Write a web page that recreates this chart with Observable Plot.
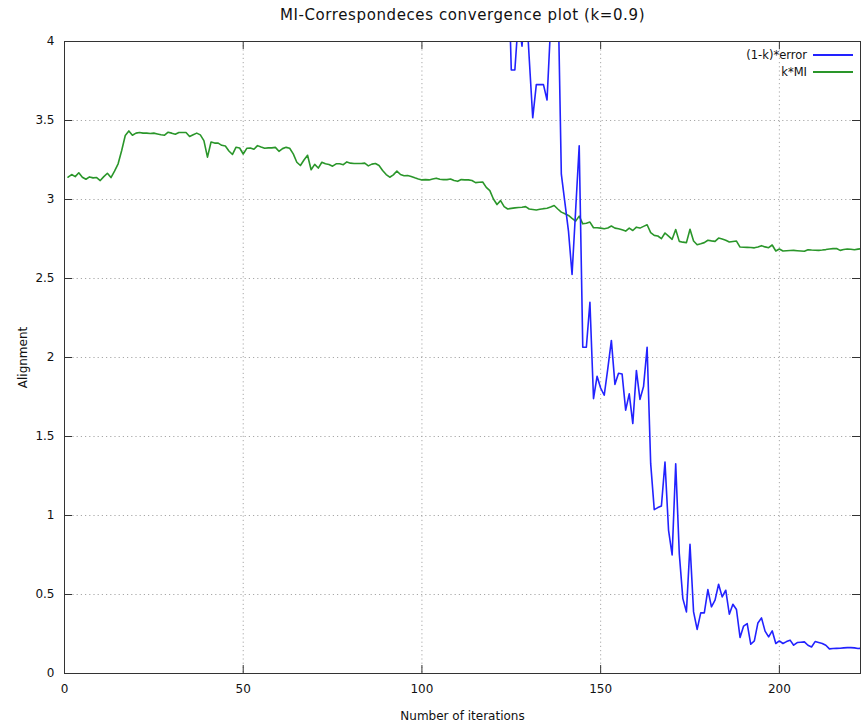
<!DOCTYPE html>
<html>
<head>
<meta charset="utf-8">
<script src="https://cdn.jsdelivr.net/npm/d3@7"></script>
<script src="https://cdn.jsdelivr.net/npm/@observablehq/plot@0.6"></script>
<style>
  html, body { margin: 0; padding: 0; background: #fff; }
  #wrap { position: relative; width: 861px; height: 724px; font-family: "DejaVu Sans", sans-serif; }
  #title { position: absolute; left: 64px; width: 797px; top: 6px; text-align: center; font-size: 15px; letter-spacing: 0.6px; color: #111; }
  #legend { position: absolute; right: 8px; top: 46.5px; font-size: 11.5px; color: #111; }
  .lrow { display: flex; align-items: center; justify-content: flex-end; height: 17px; }
  .lsw { display: inline-block; width: 40px; height: 2px; margin-left: 6px; }
</style>
</head>
<body>
<div id="wrap">
  <div id="chart"></div>
  <div id="title"></div>
  <div id="legend"></div>
</div>
<script>
// ---- data ----
const titleText = "MI-Correspondeces convergence plot (k=0.9)";
const xLabel = "Number of iterations";
const yLabel = "Alignment";
const seriesNames = ["(1-k)*error", "k*MI"];
const seriesColors = ["#2222ff", "#2a962a"];

const xTicks = [0, 50, 100, 150, 200];
const yTicks = [0, 0.5, 1, 1.5, 2, 2.5, 3, 3.5, 4];
const yTickLabels = ["0", "0.5", "1", "1.5", "2", "2.5", "3", "3.5", "4"];

// k*MI, iterations 1..223
const miStart = 1;
const miValues = [
  3.141, 3.158, 3.145, 3.169, 3.141, 3.128, 3.143, 3.137, 3.139, 3.120,
  3.145, 3.166, 3.139, 3.179, 3.226, 3.310, 3.405, 3.434, 3.407, 3.420,
  3.424, 3.420, 3.420, 3.418, 3.420, 3.415, 3.410, 3.407, 3.426, 3.420,
  3.413, 3.424, 3.424, 3.424, 3.399, 3.410, 3.420, 3.409, 3.373, 3.268,
  3.364, 3.357, 3.357, 3.343, 3.339, 3.307, 3.285, 3.331, 3.326, 3.288,
  3.324, 3.326, 3.318, 3.341, 3.332, 3.324, 3.327, 3.327, 3.330, 3.305,
  3.322, 3.330, 3.324, 3.289, 3.236, 3.215, 3.250, 3.280, 3.188, 3.222,
  3.199, 3.236, 3.226, 3.222, 3.211, 3.226, 3.226, 3.220, 3.238, 3.230,
  3.228, 3.228, 3.228, 3.230, 3.213, 3.224, 3.228, 3.215, 3.184, 3.158,
  3.141, 3.156, 3.180, 3.158, 3.150, 3.152, 3.145, 3.137, 3.130, 3.124,
  3.126, 3.124, 3.130, 3.135, 3.128, 3.126, 3.126, 3.130, 3.120, 3.115,
  3.126, 3.124, 3.124, 3.120, 3.107, 3.109, 3.111, 3.077, 3.056, 3.003,
  2.968, 2.993, 2.955, 2.940, 2.944, 2.947, 2.949, 2.951, 2.955, 2.940,
  2.937, 2.934, 2.938, 2.942, 2.945, 2.952, 2.962, 2.940, 2.920, 2.910,
  2.899, 2.880, 2.863, 2.895, 2.846, 2.850, 2.857, 2.821, 2.821, 2.819,
  2.815, 2.820, 2.832, 2.819, 2.815, 2.808, 2.800, 2.819, 2.804, 2.825,
  2.819, 2.830, 2.840, 2.790, 2.773, 2.769, 2.752, 2.788, 2.768, 2.748,
  2.810, 2.735, 2.730, 2.727, 2.812, 2.737, 2.714, 2.720, 2.727, 2.742,
  2.738, 2.735, 2.756, 2.750, 2.742, 2.731, 2.734, 2.737, 2.699, 2.698,
  2.697, 2.696, 2.694, 2.700, 2.708, 2.700, 2.695, 2.712, 2.674, 2.687,
  2.674, 2.676, 2.677, 2.678, 2.676, 2.674, 2.672, 2.682, 2.680, 2.679,
  2.678, 2.680, 2.683, 2.687, 2.689, 2.690, 2.678, 2.683, 2.687, 2.685,
  2.682, 2.686, 2.689
];

// (1-k)*error, iterations 122..223 (earlier values lie above the plotted range)
const errStart = 122;
const errValues = [
  6.5, 5.5, 4.6, 3.82, 3.82, 4.15, 3.97, 4.3, 3.9, 3.517,
  3.727, 3.727, 3.727, 3.63, 4.1, 4.8, 4.4, 3.16, 2.98, 2.80,
  2.526, 2.93, 3.34, 2.065, 2.065, 2.35, 1.74, 1.881, 1.807, 1.761,
  1.93, 2.108, 1.83, 1.90, 1.896, 1.667, 1.77, 1.582, 1.918, 1.735,
  1.816, 2.065, 1.328, 1.037, 1.05, 1.06, 1.338, 0.906, 0.75, 1.328,
  0.759, 0.474, 0.39, 0.818, 0.39, 0.279, 0.384, 0.384, 0.531, 0.422,
  0.464, 0.565, 0.485, 0.527, 0.375, 0.438, 0.405, 0.228, 0.30, 0.316,
  0.185, 0.206, 0.32, 0.352, 0.268, 0.232, 0.27, 0.19, 0.206, 0.19,
  0.202, 0.211, 0.179, 0.196, 0.198, 0.20, 0.179, 0.168, 0.202, 0.196,
  0.19, 0.179, 0.156, 0.158, 0.159, 0.16, 0.162, 0.164, 0.164, 0.162,
  0.158, 0.16
];

// ---- build tables ----
const miData = miValues.map((v, i) => ({iter: miStart + i, value: v}));
const errData = errValues.map((v, i) => ({iter: errStart + i, value: v}));

const W = 861, H = 724, mL = 64, mR = 1, mT = 41, mB = 51;
const plotH = H - mT - mB;
const tickLen = 8;
const gridStyle = {stroke: "#a8a8a8", strokeOpacity: 1, strokeWidth: 1, strokeDasharray: "1.2,3"};

const chart = Plot.plot({
  width: W,
  height: H,
  marginLeft: mL,
  marginRight: mR,
  marginTop: mT,
  marginBottom: mB,
  style: {fontFamily: "DejaVu Sans, sans-serif", fontSize: "12px", color: "#111", background: "#fff"},
  x: {domain: [0, 222.7]},
  y: {domain: [0, 4]},
  marks: [
    Plot.gridX(xTicks, gridStyle),
    Plot.gridY(yTicks, gridStyle),
    Plot.line(miData, {x: "iter", y: "value", stroke: seriesColors[1], strokeWidth: 1.6, clip: true}),
    Plot.line(errData, {x: "iter", y: "value", stroke: seriesColors[0], strokeWidth: 1.6, clip: true}),
    Plot.frame({stroke: "#333", strokeWidth: 1}),
    // inward tick marks (gnuplot-style, mirrored)
    Plot.ruleX(xTicks, {stroke: "#333", insetTop: plotH - tickLen}),
    Plot.ruleX(xTicks, {stroke: "#333", insetBottom: plotH - tickLen}),
    Plot.ruleY(yTicks, {stroke: "#333", insetRight: (W - mL - mR) - tickLen}),
    Plot.ruleY(yTicks, {stroke: "#333", insetLeft: (W - mL - mR) - tickLen}),
    Plot.axisX(xTicks, {tickSize: 0, tickPadding: 11, fontSize: 12, label: xLabel, labelAnchor: "center", labelArrow: "none", labelOffset: 46}),
    Plot.axisY(yTicks, {tickSize: 0, tickPadding: 10, fontSize: 12, tickFormat: (d) => yTickLabels[yTicks.indexOf(d)], label: yLabel, labelAnchor: "center", labelArrow: "none", labelOffset: 46})
  ]
});
document.getElementById("chart").appendChild(chart);
document.getElementById("title").textContent = titleText;

const legend = document.getElementById("legend");
seriesNames.forEach((name, i) => {
  const row = document.createElement("div");
  row.className = "lrow";
  const t = document.createElement("span");
  t.textContent = name;
  const sw = document.createElement("span");
  sw.className = "lsw";
  sw.style.background = seriesColors[i];
  row.appendChild(t);
  row.appendChild(sw);
  legend.appendChild(row);
});
</script>
</body>
</html>
